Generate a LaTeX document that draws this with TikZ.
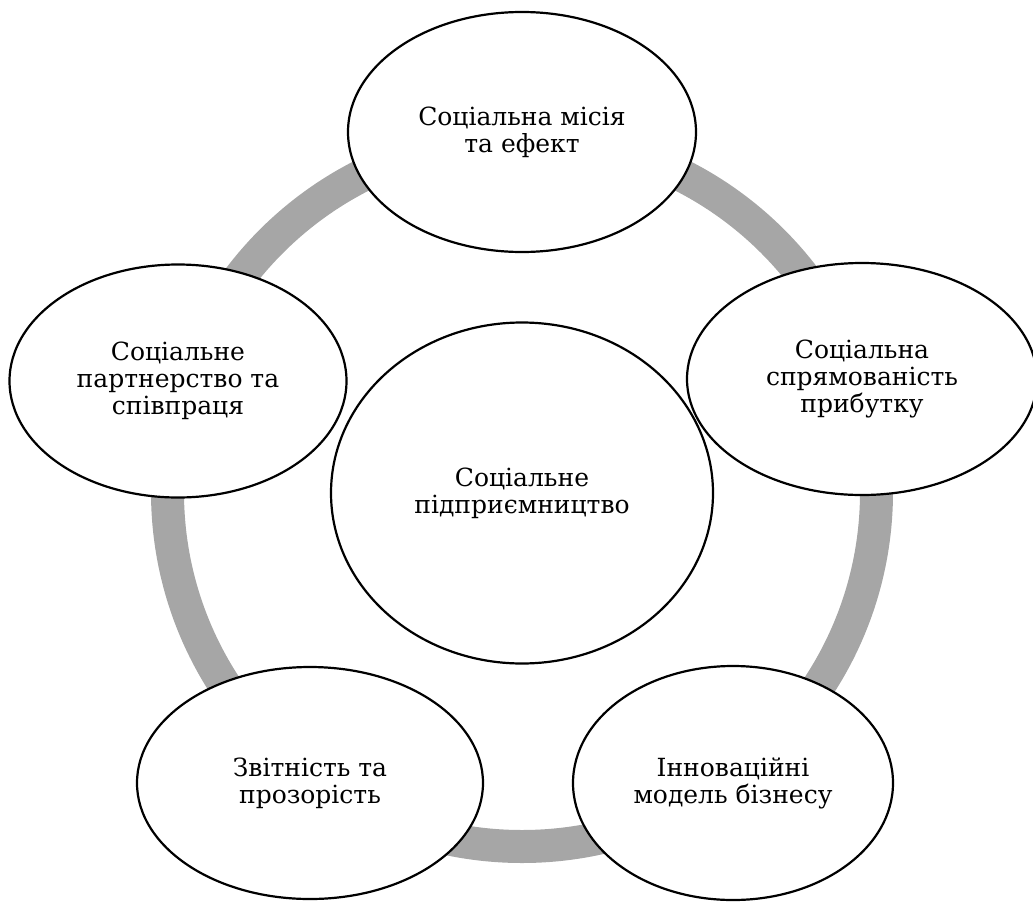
\documentclass[tikz,border=0pt]{standalone}
\usepackage{fontspec}
\setmainfont{DejaVu Serif}
\usetikzlibrary{shapes.geometric}
\definecolor{ringgray}{HTML}{A6A6A6}
\tikzset{
  bubble/.style={ellipse, draw=black, line width=2.2pt, inner sep=0pt,
    align=center, font=\fontsize{25}{27}\selectfont},
  bubblebg/.style={ellipse, fill=white, draw=none, inner sep=0pt},
}
\begin{document}
\begin{tikzpicture}[x=1pt,y=-1pt]
\useasboundingbox (0,0) rectangle (1033,902);
% ring
\draw[ringgray, line width=33pt] (522,492) circle (354.5pt);
% white fills
\node[bubblebg, minimum width=348pt, minimum height=240pt] (bgtop) at (522,132) {};
\node[bubblebg, minimum width=350pt, minimum height=232pt] (bgright) at (862,379) {};
\node[bubblebg, minimum width=320pt, minimum height=234pt] (bgbr) at (733,783) {};
\node[bubblebg, minimum width=346pt, minimum height=232pt] (bgbl) at (310,783) {};
\node[bubblebg, minimum width=337pt, minimum height=233pt] (bgleft) at (178,381) {};
\node[bubblebg, minimum width=382pt, minimum height=341pt] (bgcenter) at (522,493) {};
% outlines and texts
\node[bubble, minimum width=348pt, minimum height=240pt] (top) at (522,132) {Соціальна місія\\та ефект};
\node[bubble, minimum width=350pt, minimum height=232pt] (right) at (862,379) {Соціальна\\спрямованість\\прибутку};
\node[bubble, minimum width=320pt, minimum height=234pt] (br) at (733,783) {Інноваційні\\модель бізнесу};
\node[bubble, minimum width=346pt, minimum height=232pt] (bl) at (310,783) {Звітність та\\прозорість};
\node[bubble, minimum width=337pt, minimum height=233pt] (left) at (178,381) {Соціальне\\партнерство та\\співпраця};
\node[bubble, minimum width=382pt, minimum height=341pt] (center) at (522,493) {Соціальне\\підприємництво};
\end{tikzpicture}
\end{document}
